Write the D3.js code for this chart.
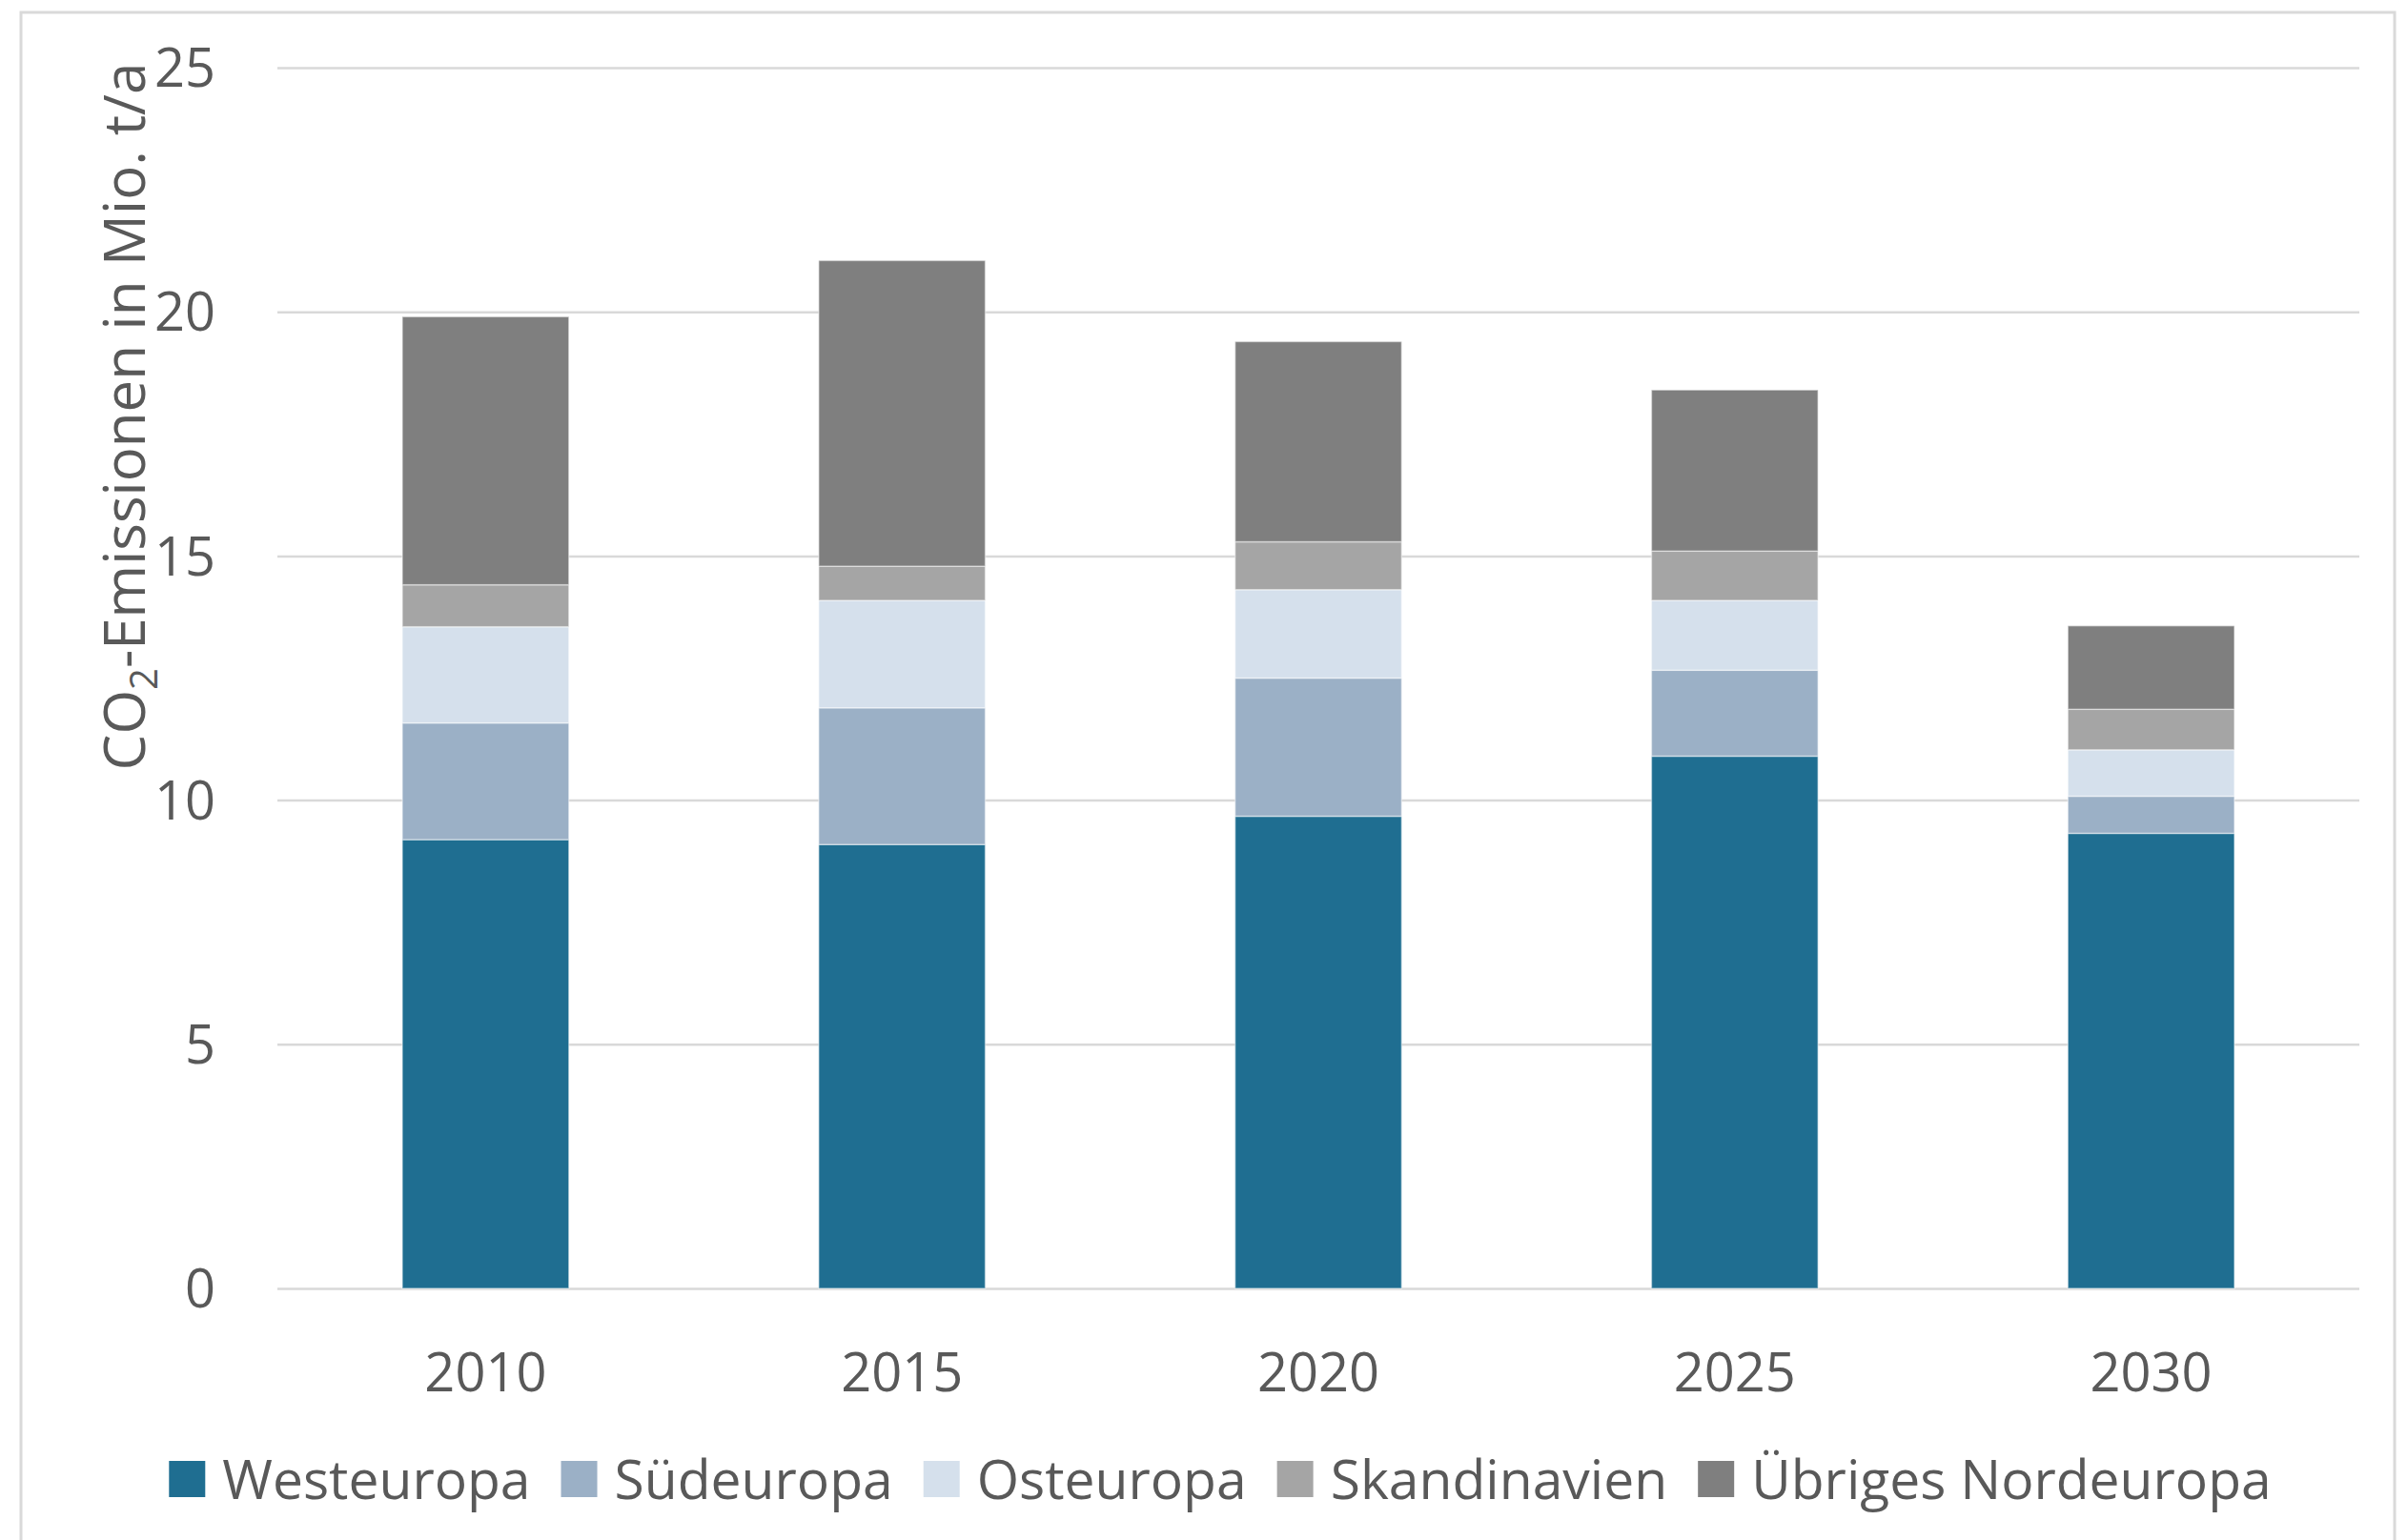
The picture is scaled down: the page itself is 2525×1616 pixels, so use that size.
<html>
  <head>
    <meta charset="utf-8" />
    <script src="https://d3js.org/d3.v7.min.js"></script>
    <style>
      body {
        margin: 0;
        background: #fff;
      }
      text {
        font-family: "Open Sans", sans-serif;
        fill: #595959;
      }
      .gridlines line {
        stroke: #d9d9d9;
        stroke-width: 2.5px;
      }
      .gridlines .domain {
        display: none;
      }
    </style>
  </head>
  <body>
    <svg id="chart" width="2525" height="1616"></svg>

    <script>
      // data (Mio. t/a)
      const years = ["2010", "2015", "2020", "2025", "2030"];
      const regions = [
        "Westeuropa",
        "Südeuropa",
        "Osteuropa",
        "Skandinavien",
        "Übriges Nordeuropa",
      ];
      const westeuropa = [9.19, 9.09, 9.67, 10.9, 9.32];
      const suedeuropa = [2.39, 2.8, 2.83, 1.76, 0.76];
      const osteuropa = [1.97, 2.2, 1.81, 1.43, 0.95];
      const skandinavien = [0.86, 0.7, 0.98, 1.01, 0.83];
      const uebrigesNord = [5.49, 6.26, 4.1, 3.3, 1.71];
      const yTicks = [0, 5, 10, 15, 20, 25];
      const colors = ["#1f6e91", "#9bb0c6", "#d5e0ec", "#a5a5a5", "#7f7f7f"];

      const seriesValues = [
        westeuropa,
        suedeuropa,
        osteuropa,
        skandinavien,
        uebrigesNord,
      ];
      const rows = years.map((y, i) => {
        let row = { year: y };
        regions.forEach((r, j) => (row[r] = seriesValues[j][i]));
        return row;
      });

      const svg = d3.select("svg#chart");
      const margin = { top: 71, right: 50, bottom: 263, left: 291 };
      const plotWidth = 2475 - margin.left;
      const plotHeight = 1352 - margin.top;

      // outer chart frame
      svg
        .append("rect")
        .attr("x", 22)
        .attr("y", 13)
        .attr("width", 2490)
        .attr("height", 1700)
        .attr("fill", "none")
        .attr("stroke", "#d9d9d9")
        .attr("stroke-width", 3);

      const plot = svg
        .append("g")
        .attr("transform", `translate(${margin.left},${margin.top})`);

      const yScale = d3.scaleLinear().domain([0, 25]).range([plotHeight, 0]);
      const xScale = d3
        .scaleBand()
        .domain(years)
        .range([0, plotWidth])
        .paddingInner(0.6)
        .paddingOuter(0.3);

      let grid = d3
        .axisLeft(yScale)
        .tickValues(yTicks)
        .tickSize(-plotWidth)
        .tickFormat("");
      plot.append("g").attr("class", "gridlines").call(grid);

      // y tick labels
      plot
        .selectAll("text.ytick")
        .data(yTicks)
        .join("text")
        .attr("class", "ytick")
        .attr("x", -65)
        .attr("y", (d) => yScale(d))
        .attr("dy", "0.36em")
        .attr("text-anchor", "end")
        .attr("font-size", "56px")
        .text((d) => d);

      const stack = d3.stack().keys(regions);
      const stacked = stack(rows);

      plot
        .selectAll("g.series")
        .data(stacked)
        .join("g")
        .attr("class", "series")
        .attr("fill", (d, i) => colors[i])
        .selectAll("rect")
        .data((d) => d)
        .join("rect")
        .attr("x", (d) => xScale(d.data.year))
        .attr("y", (d) => yScale(d[1]))
        .attr("width", xScale.bandwidth())
        .attr("height", (d) => yScale(d[0]) - yScale(d[1]))
        .attr("stroke", "#ffffff")
        .attr("stroke-opacity", 0.45)
        .attr("stroke-width", 1.5);

      // x labels
      plot
        .selectAll("text.xtick")
        .data(years)
        .join("text")
        .attr("class", "xtick")
        .attr("x", (d) => xScale(d) + xScale.bandwidth() / 2)
        .attr("y", plotHeight + 108)
        .attr("text-anchor", "middle")
        .attr("font-size", "56px")
        .text((d) => d);

      // y axis title
      const title = svg
        .append("text")
        .attr("transform", "translate(152,437) rotate(-90)")
        .attr("text-anchor", "middle")
        .attr("font-size", "60px");
      title.append("tspan").text("CO");
      title
        .append("tspan")
        .attr("font-size", "40px")
        .attr("dy", "13")
        .text("2");
      title.append("tspan").attr("dy", "-13").text("-Emissionen in Mio. t/a");

      // legend
      const legend = svg.append("g").attr("class", "legend");
      const items = legend
        .selectAll("g.item")
        .data(regions)
        .join("g")
        .attr("class", "item");
      items
        .append("rect")
        .attr("width", 38)
        .attr("height", 38)
        .attr("y", -19)
        .attr("fill", (d, i) => colors[i]);
      items
        .append("text")
        .attr("x", 56)
        .attr("dy", "0.36em")
        .attr("font-size", "57px")
        .text((d) => d);

      let xPos = 0;
      items.each(function () {
        const w = 56 + this.querySelector("text").getComputedTextLength();
        this.setAttribute("transform", `translate(${xPos},0)`);
        xPos += w + 32;
      });
      const legendWidth = xPos - 32;
      legend.attr(
        "transform",
        `translate(${1280 - legendWidth / 2},1552)`
      );
    </script>
  </body>
</html>
